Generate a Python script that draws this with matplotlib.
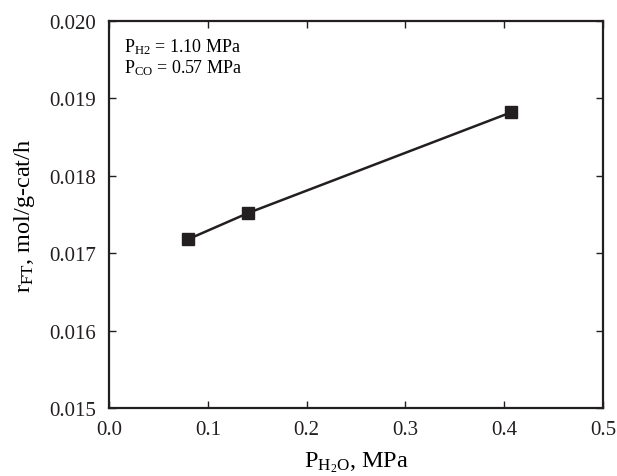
import matplotlib
matplotlib.use('Agg')
from matplotlib import pyplot as plt

p_h2o = [0.080, 0.141, 0.407]
r_ft = [0.01718, 0.01752, 0.01882]
x_ticks = [0.0, 0.1, 0.2, 0.3, 0.4, 0.5]
y_ticks = [0.015, 0.016, 0.017, 0.018, 0.019, 0.020]

plt.rcParams['font.family'] = ['Liberation Serif', 'DejaVu Serif']
plt.rcParams['mathtext.fontset'] = 'custom'
plt.rcParams['mathtext.rm'] = 'Liberation Serif'
plt.rcParams['mathtext.it'] = 'Liberation Serif'

def main():
    fig = plt.figure(figsize=(6.17, 4.77), dpi=100)
    ax = fig.add_axes([109 / 617, 1 - 409 / 477, 494 / 617, 387 / 477])

    ax.plot(p_h2o, r_ft, c='#231f20', lw=1.8, marker='s', ms=8.5, mfc='#231f20', mec='#231f20')

    ax.set_xlim(0, 0.5)
    ax.set_ylim(0.015, 0.020)
    ax.set_xticks(x_ticks)
    ax.set_yticks(y_ticks)
    ax.set_xticklabels([f"{t:.1f}" for t in x_ticks])
    ax.set_yticklabels([f"{t:.3f}" for t in y_ticks])
    ax.tick_params(direction='in', top=True, right=True, length=5, width=1,
                   labelsize=15, colors='#231f20')
    ax.tick_params(axis='x', pad=9)
    ax.tick_params(axis='y', pad=9)
    for s in ax.spines.values():
        s.set_linewidth(1.6)
        s.set_color('#231f20')

    ax.set_xlabel(r'$\mathregular{P_{H_2O}}$, MPa', fontsize=17.5, labelpad=7)
    ax.set_ylabel(r'$\mathregular{r_{FT}}$, mol/g-cat/h', fontsize=17.5)
    ax.yaxis.set_label_coords(-0.145, 0.5)

    ax.text(0.03, 0.96, r'$\mathregular{P_{H2}}$ = 1.10 MPa', transform=ax.transAxes,
            fontsize=13, va='top', ha='left')
    ax.text(0.03, 0.905, r'$\mathregular{P_{CO}}$ = 0.57 MPa', transform=ax.transAxes,
            fontsize=13, va='top', ha='left')

    fig.savefig('out.png', dpi=100)

main()
